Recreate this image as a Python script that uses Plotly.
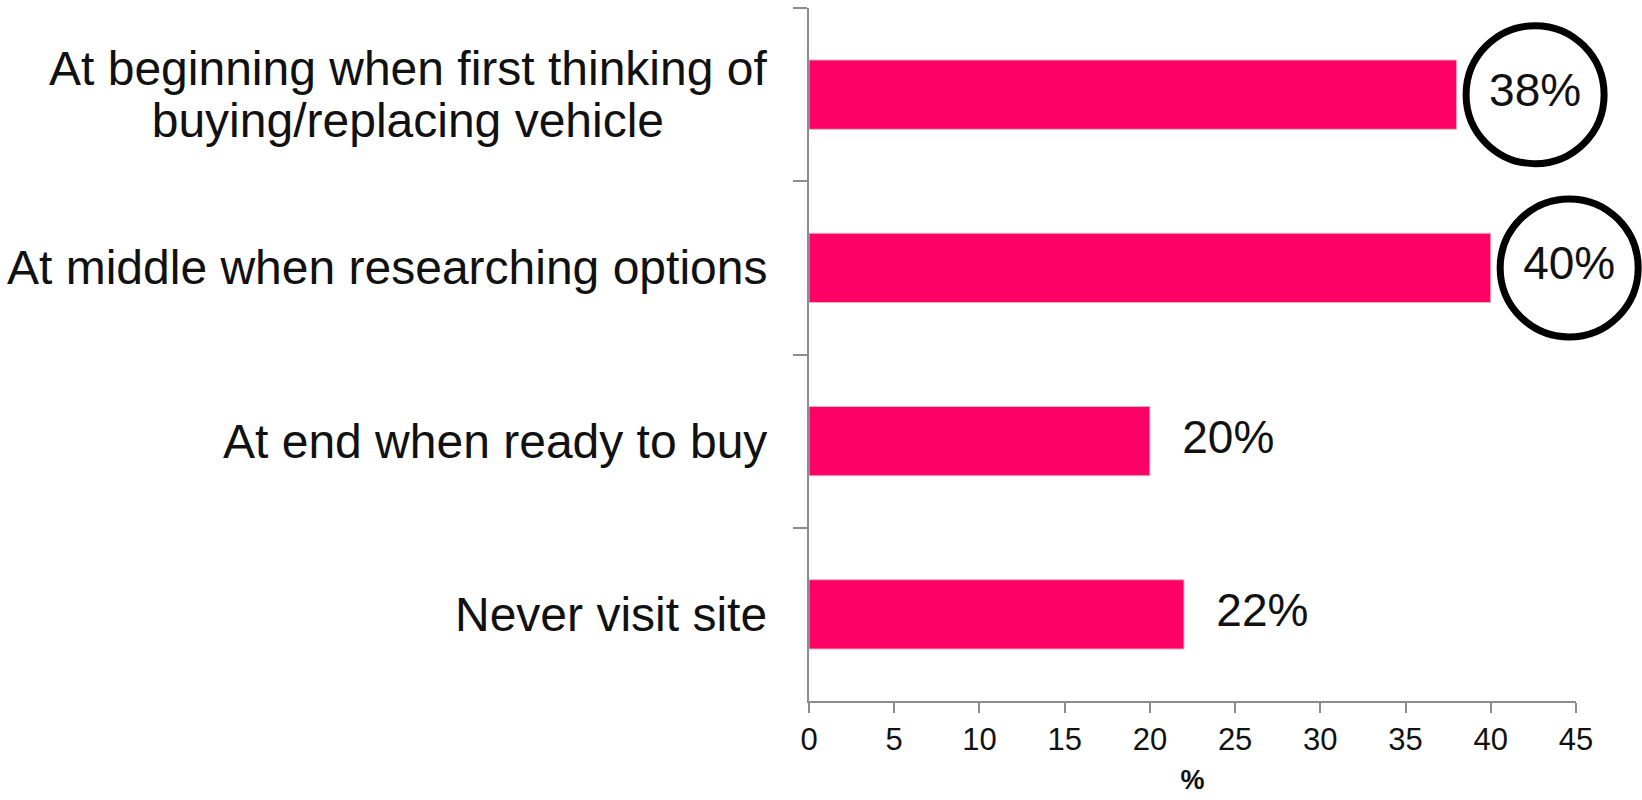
import plotly.graph_objects as go

# Survey: when respondents visit the site during the purchase journey
categories = [
    "At beginning when first thinking of<br>buying/replacing vehicle",
    "At middle when researching options",
    "At end when ready to buy",
    "Never visit site",
]
values = [38, 40, 20, 22]
highlighted = [True, True, False, False]
x_ticks = [0, 5, 10, 15, 20, 25, 30, 35, 40, 45]

BAR_COLOR = "#FF0066"
FONT = "Liberation Sans, Arial, sans-serif"
LABEL_OFFSET = 4.6    # data units from bar end to value-label centre

fig = go.Figure()
fig.add_trace(go.Bar(
    x=values,
    y=categories,
    orientation="h",
    marker=dict(color=BAR_COLOR, line=dict(color="#d8b8c4", width=1)),
    width=0.4,
    hoverinfo="skip",
))

# value labels, with a ring around the highlighted ones
fig.add_trace(go.Scatter(
    x=[v + LABEL_OFFSET for v in values],
    y=categories,
    mode="markers+text",
    text=[f"{v}%" for v in values],
    textposition="middle center",
    textfont=dict(family=FONT, size=46, color="#111111"),
    marker=dict(
        symbol="circle", size=138, color="rgba(0,0,0,0)",
        line=dict(color="black", width=[7 if h else 0 for h in highlighted]),
    ),
    cliponaxis=False,
    hoverinfo="skip",
))

# category labels: centred lines, tight line spacing (1.3 x 40px = 52px)
annotations = []
for cat in categories:
    lines = cat.split("<br>")
    text = "<br>".join(f'<span style="font-size:48px">{ln}</span>' for ln in lines)
    annotations.append(dict(
        x=0, xref="paper", xanchor="right", xshift=-40,
        y=cat, yref="y", yanchor="middle",
        text=text, showarrow=False, align="center",
        font=dict(family=FONT, size=40, color="#111111"),
    ))

fig.update_layout(
    width=1642, height=800,
    margin=dict(l=809, r=66, t=8, b=99),
    plot_bgcolor="white", paper_bgcolor="white",
    showlegend=False,
    annotations=annotations,
    font=dict(family=FONT, color="#111111"),
)
fig.update_xaxes(
    range=[0, 45], tickvals=x_ticks, ticktext=[str(t) for t in x_ticks],
    showgrid=False, zeroline=False,
    showline=True, linecolor="#8c8c8c", linewidth=1.5,
    ticks="outside", ticklen=10, tickcolor="#8c8c8c", tickwidth=1.5,
    tickfont=dict(family=FONT, size=31, color="#111111"),
    title=dict(text="<b>%</b>", font=dict(family=FONT, size=27, color="#111111"), standoff=14),
)
fig.update_yaxes(
    range=[len(categories) - 0.5, -0.5],
    showgrid=False, zeroline=False,
    showline=True, linecolor="#8c8c8c", linewidth=1.5,
    ticks="outside", ticklen=14, tickcolor="#8c8c8c", tickwidth=1.5,
    tickson="boundaries", showticklabels=False,
)

fig.write_html("out.html")
